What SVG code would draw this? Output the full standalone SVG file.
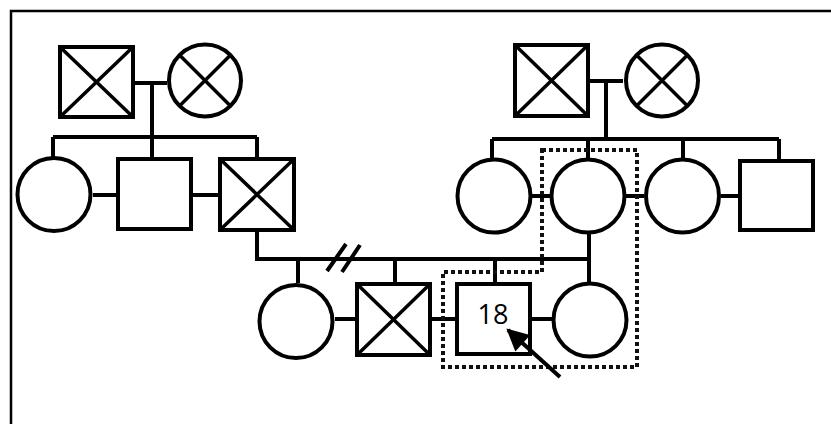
<svg xmlns="http://www.w3.org/2000/svg" width="831" height="424" viewBox="0 0 831 424">
  <style>
    .shape { fill: #fff; stroke: #000; stroke-width: 4; }
    .cross { stroke: #000; stroke-width: 3.5; fill: none; }
    .line { stroke: #000; stroke-width: 4; fill: none; }
    .frame { stroke: #000; stroke-width: 2.5; fill: none; }
    .dotted { stroke: #111; stroke-width: 4; fill: none; stroke-dasharray: 4 3; }
    .label { font-family: "Open Sans", "Liberation Sans", sans-serif; font-size: 27px; fill: #000; }
  </style>
  <defs>
    <marker id="arrowhead" viewBox="0 0 10 10" refX="9" refY="5" markerWidth="6" markerHeight="5.5" orient="auto" markerUnits="strokeWidth">
      <path d="M0 0 L10 5 L0 10 Z" fill="#000"/>
    </marker>
  </defs>

  <rect width="831" height="424" fill="#fff"/>
  <!-- frame (open to the right and bottom) -->
  <path class="frame" d="M11 440 V11 H840"/>

  <g id="connectors">
    <!-- left family -->
    <path class="line" d="M135 83 H167 M152 83 V137 M53 137 H257 M53 137 V157 M152 137 V157 M257 137 V158"/>
    <path class="line" d="M93 195 H116 M193 195 H218"/>
    <!-- right family -->
    <path class="line" d="M590 81 H623 M606 81 V139 M492 139 H779 M492 139 V158 M588 139 V158 M683 139 V158 M779 139 V159"/>
    <path class="line" d="M532 196 H550 M625 196 H644 M721 196 H738"/>
    <!-- lower sibship -->
    <path class="line" d="M257 230 V259 H589 M589 234 V282 M298 259 V283 M395 259 V282 M495 259 V282"/>
    <path class="line" d="M335 319 H355 M432 319 H455 M532 319 H552"/>
    <!-- separation mark -->
    <path class="line" d="M327 271 L346 244 M342 272 L360 245" stroke-width="3.5"/>
    <!-- dotted outline -->
    <path class="dotted" d="M542 150 H637 V367 H443 V272 H542 Z"/>
  </g>

  <!-- generation I, left -->
  <g id="node-I1">
    <rect class="shape" x="60" y="47" width="73" height="70"/>
    <path class="cross" d="M60 47 L133 117 M133 47 L60 117"/>
  </g>
  <g id="node-I2">
    <circle class="shape" cx="205" cy="80.5" r="36"/>
    <path class="cross" d="M179.5 55 L230.5 106 M230.5 55 L179.5 106"/>
  </g>

  <!-- generation I, right -->
  <g id="node-I3">
    <rect class="shape" x="515" y="45" width="73" height="71"/>
    <path class="cross" d="M515 45 L588 116 M588 45 L515 116"/>
  </g>
  <g id="node-I4">
    <circle class="shape" cx="662" cy="80.5" r="36"/>
    <path class="cross" d="M636.5 55 L687.5 106 M687.5 55 L636.5 106"/>
  </g>

  <!-- generation II, left -->
  <g id="node-II1">
    <circle class="shape" cx="54" cy="194.5" r="36.5"/>
  </g>
  <g id="node-II2">
    <rect class="shape" x="118" y="159" width="73" height="70"/>
  </g>
  <g id="node-II3">
    <rect class="shape" x="220" y="159" width="74" height="71"/>
    <path class="cross" d="M220 159 L294 230 M294 159 L220 230"/>
  </g>

  <!-- generation II, right -->
  <g id="node-II4">
    <circle class="shape" cx="494" cy="196" r="36.5"/>
  </g>
  <g id="node-II5">
    <circle class="shape" cx="588" cy="196" r="36.5"/>
  </g>
  <g id="node-II6">
    <circle class="shape" cx="682.5" cy="196" r="36.5"/>
  </g>
  <g id="node-II7">
    <rect class="shape" x="740" y="161" width="73" height="69"/>
  </g>

  <!-- generation III -->
  <g id="node-III1">
    <circle class="shape" cx="296" cy="321.5" r="36.5"/>
  </g>
  <g id="node-III2">
    <rect class="shape" x="357" y="284" width="73" height="71"/>
    <path class="cross" d="M357 284 L430 355 M430 284 L357 355"/>
  </g>
  <g id="node-III3">
    <rect class="shape" x="457" y="284" width="73" height="70"/>
    <text class="label" x="493" y="324" text-anchor="middle">18</text>
  </g>
  <g id="node-III4">
    <circle class="shape" cx="590" cy="320" r="36.5"/>
  </g>

  <!-- pointer to the index case, drawn over the node -->
  <g id="pointer">
    <line class="line" x1="560" y1="377" x2="508" y2="330" stroke-width="2.5" marker-end="url(#arrowhead)"/>
  </g>
</svg>
